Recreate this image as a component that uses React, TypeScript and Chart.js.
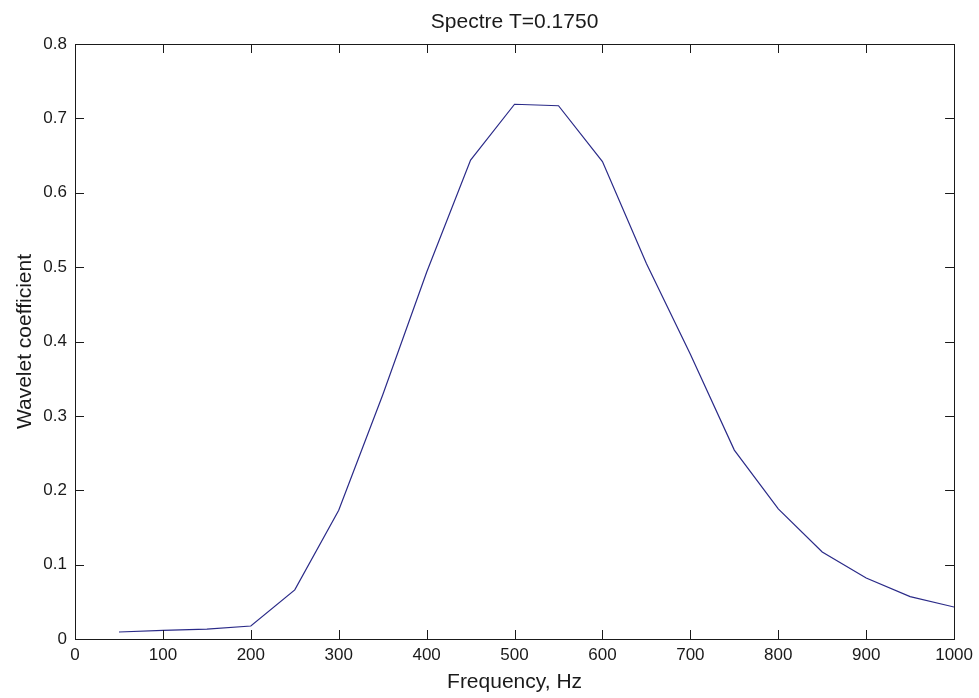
import React, { useEffect, useRef } from "react";
import { Chart, registerables } from "chart.js";

Chart.register(...registerables);

const frequencies = [50, 100, 150, 200, 250, 300, 350, 400, 450, 500, 550, 600, 650, 700, 750, 800, 850, 900, 950, 1000];
const coefficients = [0.0094, 0.0117, 0.0134, 0.0175, 0.066, 0.173, 0.328, 0.493, 0.644, 0.719, 0.717, 0.642, 0.505, 0.383, 0.254, 0.175, 0.117, 0.082, 0.057, 0.043];
const xTicks = [0, 100, 200, 300, 400, 500, 600, 700, 800, 900, 1000];
const yTicks = [0, 0.1, 0.2, 0.3, 0.4, 0.5, 0.6, 0.7, 0.8];
const yTickLabels = ["0", "0.1", "0.2", "0.3", "0.4", "0.5", "0.6", "0.7", "0.8"];
const titleText = "Spectre T=0.1750";
const xTitle = "Frequency, Hz";
const yTitle = "Wavelet coefficient";

const FONT = "'Liberation Sans', Arial, sans-serif";

const decor = {
  id: "matlabDecor",
  afterDraw(chart: any) {
    const { ctx, chartArea: a, scales } = chart;
    const xs = scales.x;
    const ys = scales.y;
    ctx.save();
    ctx.strokeStyle = "#1a1a1a";
    ctx.lineWidth = 1;
    ctx.strokeRect(Math.round(a.left) + 0.5, Math.round(a.top) + 0.5, Math.round(a.right - a.left), Math.round(a.bottom - a.top));
    const tl = 9;
    ctx.beginPath();
    xTicks.forEach((v) => {
      const px = Math.round(xs.getPixelForValue(v)) + 0.5;
      ctx.moveTo(px, a.bottom);
      ctx.lineTo(px, a.bottom - tl);
      ctx.moveTo(px, a.top);
      ctx.lineTo(px, a.top + tl);
    });
    yTicks.forEach((v) => {
      const py = Math.round(ys.getPixelForValue(v)) + 0.5;
      ctx.moveTo(a.left, py);
      ctx.lineTo(a.left + tl, py);
      ctx.moveTo(a.right, py);
      ctx.lineTo(a.right - tl, py);
    });
    ctx.stroke();

    ctx.fillStyle = "#1a1a1a";
    ctx.textAlign = "center";
    ctx.textBaseline = "alphabetic";
    const cx = (a.left + a.right) / 2;
    ctx.font = `21px ${FONT}`;
    ctx.fillText(titleText, cx, 28);
    ctx.fillText(xTitle, cx, 688);
    ctx.translate(31, (a.top + a.bottom) / 2);
    ctx.rotate(-Math.PI / 2);
    ctx.fillText(yTitle, 0, 0);
    ctx.restore();
  },
};

export default function App() {
  const ref = useRef<HTMLCanvasElement | null>(null);
  useEffect(() => {
    document.body.style.margin = "0";
    const canvas = ref.current;
    if (!canvas) return;
    const chart = new Chart(canvas, {
      type: "line",
      data: {
        datasets: [
          {
            data: frequencies.map((f, i) => ({ x: f, y: coefficients[i] })),
            borderColor: "#2a2a88",
            borderWidth: 1.2,
            pointRadius: 0,
            fill: false,
            tension: 0,
          },
        ],
      },
      options: {
        responsive: false,
        animation: false,
        layout: { padding: { top: 44, right: 24, left: 0, bottom: 0 } },
        plugins: { legend: { display: false }, tooltip: { enabled: false }, title: { display: false } },
        scales: {
          x: {
            type: "linear",
            min: 0,
            max: 1000,
            afterFit: (s: any) => {
              s.height = 59;
            },
            afterBuildTicks: (s: any) => {
              s.ticks = xTicks.map((v) => ({ value: v }));
            },
            grid: { display: false, drawTicks: false },
            border: { display: false },
            ticks: {
              padding: 6,
              color: "#1a1a1a",
              font: { family: FONT, size: 17 },
              maxRotation: 0,
              callback: (v: any) => String(v),
            },
          },
          y: {
            type: "linear",
            min: 0,
            max: 0.8,
            afterFit: (s: any) => {
              s.width = 75;
            },
            afterBuildTicks: (s: any) => {
              s.ticks = yTicks.map((v) => ({ value: v }));
            },
            grid: { display: false, drawTicks: false },
            border: { display: false },
            ticks: {
              padding: 8,
              color: "#1a1a1a",
              font: { family: FONT, size: 17 },
              callback: (v: any) => {
                const i = yTicks.findIndex((t) => Math.abs(t - v) < 1e-9);
                return i >= 0 ? yTickLabels[i] : "";
              },
            },
          },
        },
      },
      plugins: [decor],
    });
    return () => chart.destroy();
  }, []);
  return (
    <div style={{ position: "absolute", left: 0, top: 0, width: 979, height: 698, background: "#fff" }}>
      <canvas ref={ref} width={979} height={698} style={{ display: "block" }} />
    </div>
  );
}
